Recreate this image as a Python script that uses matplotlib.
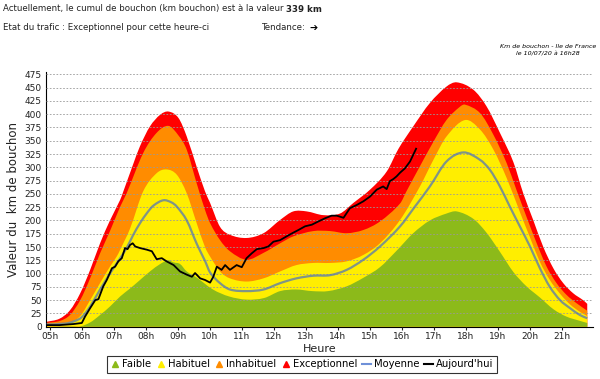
import numpy as np
import matplotlib
matplotlib.use("Agg")
import matplotlib.pyplot as plt
from matplotlib.lines import Line2D
from matplotlib.path import Path
from matplotlib.patches import PathPatch

# ---------- DATA (heures décimales, km) ----------
exc_t = [4.88, 5.3, 5.63, 5.95, 6.26, 6.57, 6.88, 7.2, 7.3, 7.6, 7.82, 8.13, 8.45, 8.71, 9.02, 9.28,
         9.59, 9.85, 10.01, 10.32, 10.63, 11.15, 11.68, 12.2, 12.61, 13.03, 13.55, 14.07, 14.49,
         15.01, 15.53, 15.9, 16.36, 16.88, 17.4, 17.72, 18.24, 18.65, 19.07, 19.49, 19.8, 20.11,
         20.42, 20.74, 21.05, 21.36, 21.67, 21.8]
exc_v = [9, 15, 31, 63, 107, 157, 200, 239, 255, 305, 340, 377, 399, 405, 393, 358,
         301, 255, 233, 188, 173, 167, 176, 201, 217, 217, 210, 213, 233,
         258, 292, 335, 377, 421, 452, 460, 446, 415, 365, 310, 251, 201,
         151, 110, 82, 63, 50, 43]

inh_t = [4.88, 5.32, 5.63, 5.95, 6.26, 6.57, 6.88, 7.2, 7.4, 7.92, 8.34, 8.71, 9.02, 9.28, 9.59,
         9.85, 10.01, 10.32, 10.63, 11.15, 11.68, 12.2, 12.61, 13.24, 13.76, 14.28, 14.8, 15.32,
         15.95, 16.15, 16.57, 16.99, 17.4, 17.82, 17.98, 18.45, 18.86, 19.28, 19.59, 19.9, 20.22,
         20.53, 20.84, 21.15, 21.47, 21.8]
inh_v = [7, 11, 22, 50, 91, 138, 180, 226, 251, 327, 365, 378, 360, 333, 270,
         220, 195, 163, 142, 126, 139, 157, 170, 180, 180, 176, 182, 198,
         232, 255, 302, 348, 389, 414, 418, 402, 362, 308, 257, 207, 157,
         113, 82, 60, 44, 30]

hab_t = [4.88, 5.63, 5.95, 6.26, 6.57, 6.88, 7.09, 7.2, 7.51, 7.92, 8.34, 8.65, 8.97, 9.28, 9.59,
         9.85, 10.01, 10.32, 10.63, 11.15, 11.68, 12.2, 12.71, 13.24, 13.76, 14.28, 14.8, 15.32,
         15.95, 16.57, 16.99, 17.4, 17.98, 18.45, 18.86, 19.28, 19.7, 20.01, 20.32, 20.63, 20.95,
         21.26, 21.57, 21.8]
hab_v = [5, 9, 20, 50, 82, 113, 132, 145, 185, 255, 289, 296, 286, 251, 195,
         150, 132, 104, 91, 85, 91, 104, 116, 120, 120, 123, 135, 157,
         201, 264, 314, 358, 389, 371, 334, 280, 215, 168, 122, 88, 62,
         42, 28, 20]

faible_t = [4.88, 5.9, 6.26, 6.57, 6.88, 7.2, 7.51, 7.82, 8.13, 8.45, 8.7, 8.87, 9.07, 9.28, 9.6,
            10.1, 10.6, 11.15, 11.7, 12.2, 12.7, 13.2, 13.7, 14.28, 14.8, 15.32, 15.84, 16.36,
            16.88, 17.4, 17.72, 18.24, 18.65, 19.07, 19.49, 19.9, 20.32, 20.74, 21.15, 21.57, 21.8]
faible_v = [0, 0, 8, 22, 38, 57, 72, 88, 104, 118, 125, 121, 118, 104, 92,
            70, 57, 51, 54, 67, 70, 67, 67, 76, 92, 112, 143, 176,
            200, 213, 217, 203, 177, 141, 103, 76, 55, 33, 19, 11, 7]

moy_t = [4.88, 5.5, 5.75, 6.0, 6.26, 6.57, 6.88, 7.1, 7.4, 7.6, 7.82, 8.05, 8.24, 8.55, 8.8, 8.97,
         9.28, 9.6, 9.85, 10.01, 10.32, 10.63, 11.15, 11.68, 12.2, 12.71, 13.24, 13.76, 14.28,
         14.8, 15.32, 15.95, 16.4, 16.88, 17.4, 17.93, 18.45, 18.76, 19.07, 19.38, 19.7, 20.01,
         20.32, 20.63, 20.95, 21.26, 21.57, 21.8]
moy_v = [4, 6, 10, 18, 38, 70, 100, 120, 148, 172, 195, 215, 228, 238, 234, 226,
         200, 155, 124, 102, 82, 70, 67, 70, 82, 91, 96, 97, 107,
         126, 151, 189, 225, 264, 311, 328, 314, 295, 264, 226, 188, 151,
         110, 75, 50, 35, 22, 16]

auj_t = [4.88, 5.3, 5.74, 6.0, 6.1, 6.26, 6.42, 6.52, 6.67, 6.78, 6.94, 7.04, 7.14, 7.25, 7.35,
         7.43, 7.51, 7.59, 7.67, 7.82, 8.03, 8.19, 8.34, 8.5, 8.65, 8.87, 9.07, 9.28, 9.44, 9.54,
         9.7, 9.85, 10.01, 10.11, 10.22, 10.37, 10.48, 10.63, 10.84, 11.0, 11.15, 11.31, 11.47,
         11.68, 11.83, 11.99, 12.2, 12.4, 12.61, 12.77, 12.98, 13.19, 13.39, 13.6, 13.81, 13.97,
         14.18, 14.38, 14.59, 14.8, 15.01, 15.22, 15.42, 15.53, 15.63, 15.74, 15.84, 15.95, 16.1,
         16.26, 16.45]
auj_v = [3, 3, 5, 7, 19, 35, 50, 52, 76, 88, 110, 113, 123, 129, 148,
         146, 154, 157, 151, 148, 145, 142, 127, 129, 123, 116, 104, 98, 94, 101,
         91, 88, 83, 94, 113, 107, 116, 107, 116, 112, 129, 138, 146,
         148, 151, 160, 163, 170, 177, 182, 189, 192, 198, 204, 209, 209,
         205, 223, 229, 236, 245, 258, 264, 259, 274, 278, 283, 290, 298,
         311, 335]

heures = [f"{h:02d}h" for h in range(5, 22)]


# courbe lissée (Hermite cubique) passant par les points lus
def courbe(t, v, fermer=True):
    t = np.asarray(t, float)
    v = np.asarray(v, float)
    m = np.empty(len(t))
    m[1:-1] = (v[2:] - v[:-2]) / (t[2:] - t[:-2])
    m[0] = (v[1] - v[0]) / (t[1] - t[0])
    m[-1] = (v[-1] - v[-2]) / (t[-1] - t[-2])
    verts = [(t[0], v[0])]
    codes = [Path.MOVETO]
    for i in range(len(t) - 1):
        h = t[i + 1] - t[i]
        verts += [(t[i] + h / 3, v[i] + m[i] * h / 3),
                  (t[i + 1] - h / 3, v[i + 1] - m[i + 1] * h / 3),
                  (t[i + 1], v[i + 1])]
        codes += [Path.CURVE4] * 3
    if fermer:
        verts += [(t[-1], 0), (t[0], 0), (t[0], v[0])]
        codes += [Path.LINETO, Path.LINETO, Path.CLOSEPOLY]
    return Path(verts, codes)


# ---------- FIGURE ----------
fig = plt.figure(figsize=(6, 3.79), dpi=100)
ax = fig.add_axes([46 / 600, 52.3 / 379, 547 / 600, 255 / 379])

c_exc = "#ff0000"
c_inh = "#ff8c00"
c_hab = "#ffee00"
c_fai = "#8cba1a"
c_moy = "#4a6fc0"

for tt, vv, col in [(exc_t, exc_v, c_exc), (inh_t, inh_v, c_inh),
                    (hab_t, hab_v, c_hab), (faible_t, faible_v, c_fai)]:
    ax.add_patch(PathPatch(courbe(tt, vv), facecolor=col, edgecolor="none", zorder=1))

ax.add_patch(PathPatch(courbe(moy_t, moy_v, fermer=False), facecolor="none",
                       edgecolor=c_moy, alpha=0.7, lw=1.6, zorder=3))
ax.plot(auj_t, auj_v, color="black", lw=1.3, zorder=3)

ax.set_xlim(4.88, 21.98)
ax.set_ylim(0, 480)
ax.set_yticks(range(0, 476, 25))
ax.set_xticks(range(5, 22))
ax.set_xticklabels(heures)
ax.tick_params(axis="both", labelsize=6.5, colors="#222222")
ax.tick_params(axis="y", length=0, pad=3)
ax.tick_params(axis="x", length=2, pad=2)

ax.yaxis.grid(True, ls=(0, (2, 2)), color="#999999", lw=0.6)
ax.set_axisbelow(False)
for s in ["top", "right"]:
    ax.spines[s].set_visible(False)

ax.set_xlabel("Heure", fontsize=8, labelpad=2, color="#222222")
ax.set_ylabel("Valeur du  km de bouchon", fontsize=8.5, labelpad=3, color="#222222")

handles = [
    Line2D([], [], ls="none", marker="^", ms=5, color=c_fai),
    Line2D([], [], ls="none", marker="^", ms=5, color=c_hab),
    Line2D([], [], ls="none", marker="^", ms=5, color=c_inh),
    Line2D([], [], ls="none", marker="^", ms=5, color=c_exc),
    Line2D([], [], color="#6f90d8", lw=1.5),
    Line2D([], [], color="black", lw=1.5),
]
labels = ["Faible", "Habituel", "Inhabituel", "Exceptionnel", "Moyenne", "Aujourd'hui"]
leg = fig.legend(handles, labels, loc="center", bbox_to_anchor=(302 / 600, 15 / 379), ncol=6,
                 fontsize=7.2, frameon=True, fancybox=False, edgecolor="black",
                 handlelength=0.9, handletextpad=0.25, columnspacing=0.5, borderpad=0.35)
leg.get_frame().set_linewidth(0.8)

# ---------- TEXTES ----------
t1 = fig.text(3 / 600, 1 - 9 / 379, "Actuellement, le cumul de bouchon (km bouchon) est à la valeur ",
              fontsize=6.2, va="center", color="#222222")
t2 = fig.text(262 / 600, 1 - 28 / 379, "Tendance:", fontsize=6.2, va="center", color="#222222")
fig.canvas.draw()
bb = t1.get_window_extent()
fig.text(bb.x1 / 600, 1 - 9 / 379, "339 km", fontsize=6.2, fontweight="bold", va="center",
         color="#222222")
bb2 = t2.get_window_extent()
fig.text((bb2.x1 + 4) / 600, 1 - 28 / 379, "➔", fontsize=7, fontweight="bold", va="center",
         color="black")
fig.text(3 / 600, 1 - 28 / 379, "Etat du trafic : Exceptionnel pour cette heure-ci",
         fontsize=6.2, va="center", color="#222222")
fig.text(548 / 600, 1 - 46 / 379, "Km de bouchon - Ile de France", fontsize=4.5, style="italic",
         ha="center", va="center")
fig.text(548 / 600, 1 - 54 / 379, "le 10/07/20 à 16h28", fontsize=4.5, style="italic",
         ha="center", va="center")

fig.savefig("out.png", dpi=100)
